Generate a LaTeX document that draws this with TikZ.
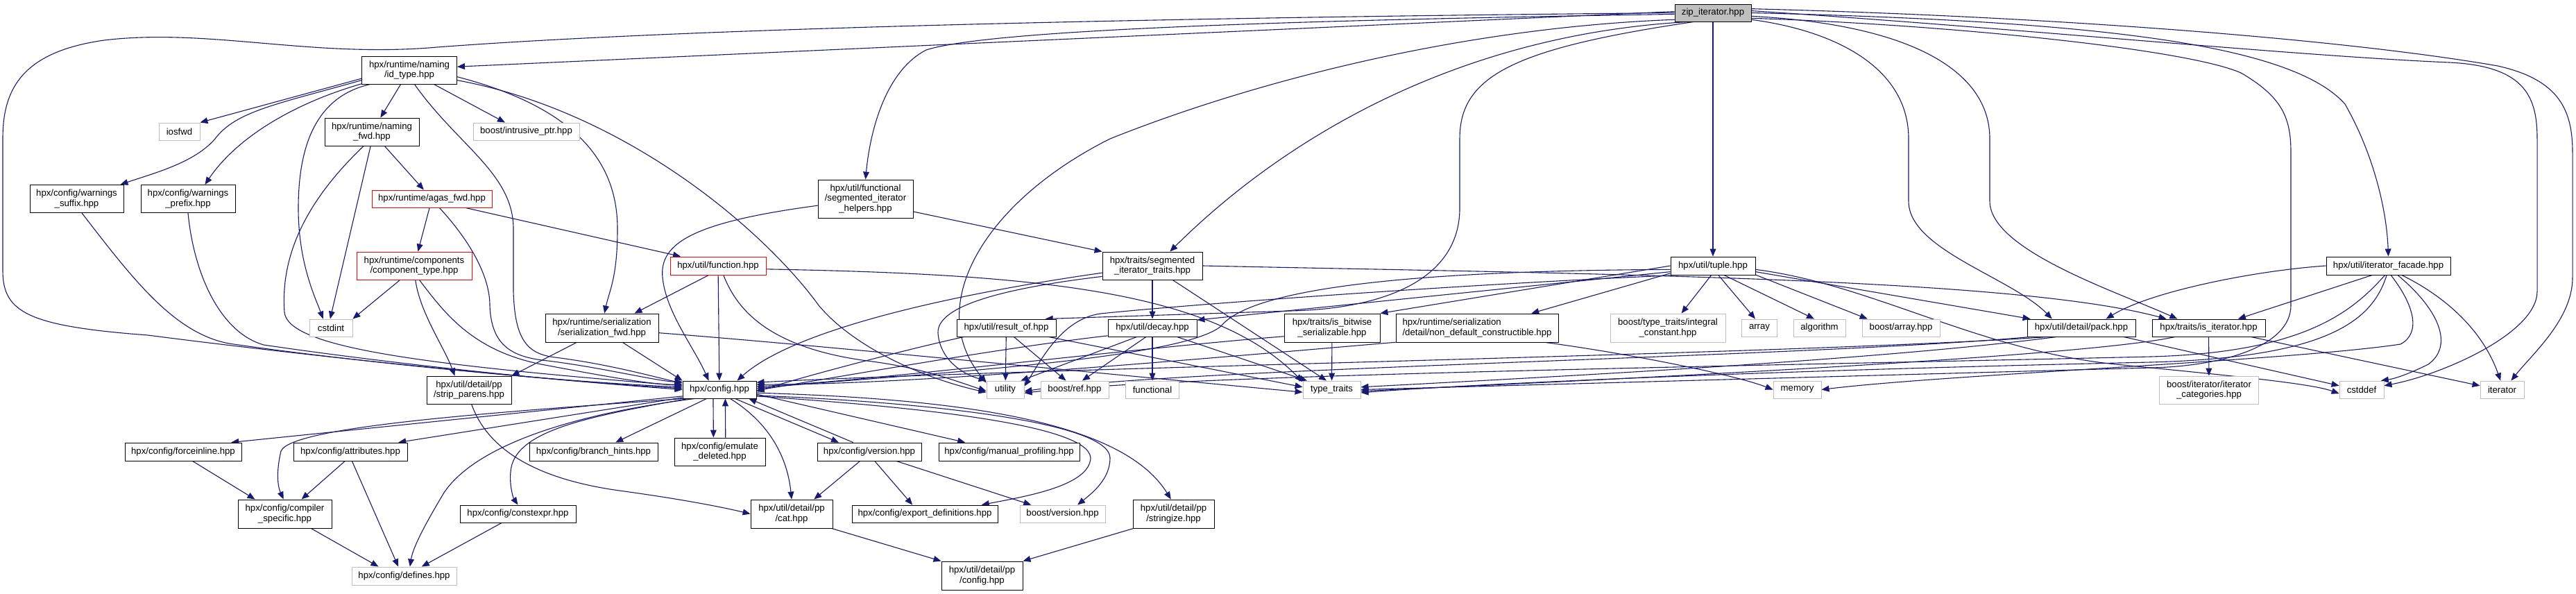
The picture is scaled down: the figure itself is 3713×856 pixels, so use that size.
\documentclass[tikz,border=0pt]{standalone}
\usepackage{fontspec}
\setmainfont{Liberation Sans}
\usetikzlibrary{arrows.meta}
\definecolor{eblue}{HTML}{191970}
\definecolor{gline}{HTML}{BFBFBF}
\definecolor{zfill}{HTML}{BFBFBF}
\pgfdeclarelayer{background}
\pgfdeclarelayer{edges}
\pgfsetlayers{background,edges,main}
\tikzset{
 nd/.style={draw=black, line width=0.45pt, fill=white, inner sep=0pt, align=center, font=\fontsize{6.6}{7.35}\selectfont},
 sysnd/.style={nd, draw=gline},
 trnd/.style={nd, draw=red},
 znd/.style={nd, fill=zfill},
 arr/.style={draw=eblue, line width=0.55pt, -{Triangle[length=5.5pt,width=4.4pt]}},
}
\newcommand{\gnode}[7]{\node[#6, minimum width=#4*0.5pt, minimum height=#5*0.5pt] (#1) at (#2,#3) {#7};}
\begin{document}
\begin{tikzpicture}[x=0.5pt,y=-0.5pt]
\begin{pgfonlayer}{background}
\fill[white] (0,0) rectangle (3713,856);
\end{pgfonlayer}
\useasboundingbox (0,0) rectangle (3713,856);
% nodes
\gnode{Z}{2469}{18.5}{110}{25}{znd}{zip\_iterator.hpp}
\gnode{idt}{590}{101}{137}{40}{nd}{hpx/runtime/naming\\/id\_type.hpp}
\gnode{iosfwd}{258.5}{189.5}{59}{25}{sysnd}{iosfwd}
\gnode{intr}{758.5}{189.5}{153}{25}{sysnd}{boost/intrusive\_ptr.hpp}
\gnode{nfwd}{536}{190}{136}{40}{nd}{hpx/runtime/naming\\\_fwd.hpp}
\gnode{wsuf}{110.5}{286.5}{135}{40}{nd}{hpx/config/warnings\\\_suffix.hpp}
\gnode{wpre}{271}{286.5}{136}{40}{nd}{hpx/config/warnings\\\_prefix.hpp}
\gnode{agas}{622.5}{286.5}{173}{25}{trnd}{hpx/runtime/agas\_fwd.hpp}
\gnode{comp}{597}{383}{166}{40}{trnd}{hpx/runtime/components\\/component\_type.hpp}
\gnode{func}{1035}{383}{138}{26}{trnd}{hpx/util/function.hpp}
\gnode{sehl}{1247.5}{286.5}{137}{55}{nd}{hpx/util/functional\\/segmented\_iterator\\\_helpers.hpp}
\gnode{setr}{1661}{383}{144}{40}{nd}{hpx/traits/segmented\\\_iterator\_traits.hpp}
\gnode{tuple}{2469}{383}{122}{26}{nd}{hpx/util/tuple.hpp}
\gnode{itf}{3442.5}{383}{179}{26}{nd}{hpx/util/iterator\_facade.hpp}
\gnode{cstdint}{477}{472.5}{62}{25}{sysnd}{cstdint}
\gnode{serfwd}{867.5}{472.5}{163}{41}{nd}{hpx/runtime/serialization\\/serialization\_fwd.hpp}
\gnode{cfg}{1037}{561.5}{106}{25}{nd}{hpx/config.hpp}
\gnode{strip}{676}{562}{122}{40}{nd}{hpx/util/detail/pp\\/strip\_parens.hpp}
\gnode{force}{264}{651}{168}{26}{nd}{hpx/config/forceinline.hpp}
\gnode{attr}{505}{651}{164}{26}{nd}{hpx/config/attributes.hpp}
\gnode{cspec}{410.5}{740.5}{135}{41}{nd}{hpx/config/compiler\\\_specific.hpp}
\gnode{defs}{582.5}{830}{151}{26}{sysnd}{hpx/config/defines.hpp}
\gnode{cexpr}{746.5}{740.5}{167}{25}{nd}{hpx/config/constexpr.hpp}
\gnode{bhint}{855.5}{651}{185}{26}{nd}{hpx/config/branch\_hints.hpp}
\gnode{emul}{1037.5}{651}{131}{40}{nd}{hpx/config/emulate\\\_deleted.hpp}
\gnode{ver}{1253}{651}{150}{26}{nd}{hpx/config/version.hpp}
\gnode{mprof}{1454.5}{651}{203}{26}{nd}{hpx/config/manual\_profiling.hpp}
\gnode{cat}{1141}{740.5}{118}{41}{nd}{hpx/util/detail/pp\\/cat.hpp}
\gnode{expd}{1333}{740.5}{210}{25}{nd}{hpx/config/export\_definitions.hpp}
\gnode{bver}{1531.5}{740.5}{123}{25}{sysnd}{boost/version.hpp}
\gnode{strz}{1691.5}{740.5}{117}{41}{nd}{hpx/util/detail/pp\\/stringize.hpp}
\gnode{ppcfg}{1415.5}{829.5}{117}{41}{nd}{hpx/util/detail/pp\\/config.hpp}
\gnode{resof}{1450.5}{472.5}{143}{25}{nd}{hpx/util/result\_of.hpp}
\gnode{decay}{1661}{472.5}{128}{25}{nd}{hpx/util/decay.hpp}
\gnode{util}{1449}{561.5}{54}{25}{sysnd}{utility}
\gnode{bref}{1549}{561.5}{98}{25}{sysnd}{boost/ref.hpp}
\gnode{fnl}{1661}{561.5}{77}{25}{sysnd}{functional}
\gnode{isbw}{1920}{472.5}{138}{41}{nd}{hpx/traits/is\_bitwise\\\_serializable.hpp}
\gnode{ndef}{2129}{472.5}{234}{41}{nd, align=left}{hpx/runtime/serialization\\/detail/non\_default\_constructible.hpp}
\gnode{intc}{2404}{472.5}{166}{41}{sysnd}{boost/type\_traits/integral\\\_constant.hpp}
\gnode{tt}{1919.5}{561.5}{83}{25}{sysnd}{type\_traits}
\gnode{stdarray}{2536}{472.5}{51}{25}{sysnd}{array}
\gnode{algo}{2622.5}{472.5}{75}{25}{sysnd}{algorithm}
\gnode{barr}{2740}{472.5}{112}{25}{sysnd}{boost/array.hpp}
\gnode{pack}{3000}{472.5}{156}{25}{nd}{hpx/util/detail/pack.hpp}
\gnode{mem}{2590.5}{561.5}{69}{25}{sysnd}{memory}
\gnode{isit}{3183.5}{472.5}{163}{25}{nd}{hpx/traits/is\_iterator.hpp}
\gnode{itcat}{3184}{562}{143}{40}{sysnd}{boost/iterator/iterator\\\_categories.hpp}
\gnode{cdef}{3404}{561.5}{64}{25}{sysnd}{cstddef}
\gnode{iter}{3606.5}{561.5}{63}{25}{sysnd}{iterator}
% edges
\begin{pgfonlayer}{edges}
% zip_iterator
\draw[arr] (Z.west) .. controls (1700,25) and (1000,40) .. (630,68) .. controls (450,84) and (300,40) .. (150,58) .. controls (30,75) and (4,130) .. (4,200) -- (4,390) .. controls (4,450) and (40,470) .. (213,483) .. controls (500,520) and (800,548) .. (cfg.180);
\draw[arr] (Z.178) -- (idt.4);
\draw[arr] (Z.182) .. controls (1800,30) and (1420,45) .. (1335,72) .. controls (1280,100) and (1255,180) .. (sehl.north);
\draw[arr] (Z.200) .. controls (2100,50) and (1850,200) .. (setr.39);
\draw[arr] (Z) -- (tuple);
\draw[arr] (Z.190) .. controls (2100,40) and (1800,120) .. (1600,200) .. controls (1420,290) and (1330,440) .. (util.160);
\draw[arr] (Z.205) .. controls (2180,70) and (2104,110) .. (2104,200) -- (2104,300) .. controls (2104,400) and (2000,445) .. (1860,448) -- (resof.13);
\draw[arr] (Z.-10) .. controls (2650,45) and (2751,100) .. (2751,200) -- (2751,290) .. controls (2751,360) and (2900,400) .. (pack.163);
\draw[arr] (Z.-5) .. controls (2750,35) and (2868,100) .. (2868,200) -- (2868,290) .. controls (2868,360) and (3050,420) .. (isit.164);
\draw[arr] (Z.0) .. controls (3000,30) and (3300,60) .. (3380,150) .. controls (3420,220) and (3440,300) .. (itf.north);
\draw[arr] (Z.3) .. controls (2900,40) and (3300,80) .. (3530,90) .. controls (3640,95) and (3657,140) .. (3657,200) -- (3657,420) .. controls (3657,480) and (3520,540) .. (cdef.10);
\draw[arr] (Z.6) .. controls (3000,25) and (3400,60) .. (3600,95) .. controls (3690,115) and (3708,160) .. (3708,220) -- (3708,400) .. controls (3708,460) and (3650,510) .. (iter.45);
\draw[arr] (Z.-8) .. controls (2800,35) and (3150,70) .. (3230,105) .. controls (3290,140) and (3302,170) .. (3302,220) -- (3302,440) .. controls (3302,500) and (3200,528) .. (3100,530) -- (tt.east);
% id_type
\draw[arr] (idt.190) -- (iosfwd.north east);
\draw[arr] (idt.192) .. controls (400,150) and (340,160) .. (310,200) .. controls (280,235) and (220,250) .. (wsuf.18);
\draw[arr] (idt.196) .. controls (420,150) and (340,200) .. (wpre.40);
\draw[arr] (idt) -- (nfwd);
\draw[arr] (idt.-30) -- (intr.157);
\draw[arr] (idt.200) .. controls (450,140) and (430,220) .. (430,300) .. controls (430,380) and (455,430) .. (cstdint.131);
\draw[arr] (idt.-70) .. controls (660,210) and (740,250) .. (740,330) -- (740,420) .. controls (742,490) and (760,510) .. (800,515) .. controls (880,525) and (950,545) .. (cfg.170);
\draw[arr] (idt.-8) .. controls (850,160) and (890,250) .. (890,330) .. controls (890,400) and (878,420) .. (serfwd.80);
\draw[arr] (idt.-12) .. controls (900,160) and (1100,330) .. (1180,440) .. controls (1230,500) and (1330,545) .. (util.188);
% naming_fwd
\draw[arr] (nfwd.-120) .. controls (430,300) and (405,380) .. (410,450) .. controls (415,500) and (600,525) .. (cfg.174);
\draw[arr] (nfwd.-95) -- (cstdint.95);
\draw[arr] (nfwd) -- (agas);
% warnings
\draw[arr] (wsuf.-70) .. controls (190,400) and (250,480) .. (330,495) .. controls (500,520) and (800,550) .. (cfg.176);
\draw[arr] (wpre.-90) .. controls (280,400) and (320,480) .. (380,497) .. controls (550,522) and (800,550) .. (cfg.178);
% agas
\draw[arr] (agas) -- (comp);
\draw[arr] (agas.-15) -- (func.166);
\draw[arr] (agas.-50) .. controls (680,350) and (706,400) .. (706,440) .. controls (708,500) and (740,515) .. (790,520) .. controls (870,530) and (950,550) .. (cfg.168);
% component_type
\draw[arr] (comp.-135) -- (cstdint.north east);
\draw[arr] (comp.-85) .. controls (605,450) and (640,500) .. (strip.135);
\draw[arr] (comp.-70) .. controls (640,450) and (680,505) .. (780,525) .. controls (860,540) and (940,555) .. (cfg.172);
% function
\draw[arr] (func) -- (cfg);
\draw[arr] (func.-135) -- (serfwd.24);
\draw[arr] (func.-60) .. controls (1060,440) and (1100,500) .. (1250,520) .. controls (1330,530) and (1380,550) .. (util.184);
\draw[arr] (func.-4) .. controls (1500,395) and (1750,420) .. (tt.165);
% serialization_fwd
\draw[arr] (serfwd.-150) -- (strip.north east);
\draw[arr] (serfwd.-35) -- (cfg.north west);
\draw[arr] (serfwd.-5) .. controls (1150,495) and (1500,530) .. (tt.185);
% strip_parens
\draw[arr] (strip.-80) .. controls (700,640) and (760,690) .. (900,708) .. controls (1000,722) and (1050,733) .. (cat.west);
% segmented helpers / traits
\draw[arr] (sehl.-15) -- (setr.north west);
\draw[arr] (sehl.188) .. controls (1000,320) and (950,350) .. (955,400) .. controls (960,450) and (1000,500) .. (cfg.140);
\draw[arr] (setr) -- (decay);
\draw[arr] (setr.188) .. controls (1400,420) and (1150,470) .. (cfg.27);
\draw[arr] (setr.192) .. controls (1450,415) and (1350,440) .. (1352,480) .. controls (1355,520) and (1390,540) .. (util.north west);
\draw[arr] (setr.-35) -- (tt.120);
\draw[arr] (setr.east) .. controls (2300,395) and (2900,400) .. (isit.168);
% tuple
\draw[arr] (tuple.west) -- (isbw.north east);
\draw[arr] (tuple.188) -- (decay.10);
\draw[arr] (tuple.190) -- (ndef.15);
\draw[arr] (tuple.-100) -- (intc.47);
\draw[arr] (tuple.-60) -- (stdarray.115);
\draw[arr] (tuple.-40) -- (algo.120);
\draw[arr] (tuple.-12) -- (barr.165);
\draw[arr] (tuple.-8) -- (pack.170);
\draw[arr] (tuple.185) .. controls (2000,390) and (1800,420) .. (1760,470) .. controls (1700,520) and (1300,540) .. (cfg.2);
\draw[arr] (tuple.195) .. controls (2100,410) and (1700,440) .. (1586,452) .. controls (1530,460) and (1500,520) .. (util.10);
\draw[arr] (tuple.-5) .. controls (2700,410) and (2850,505) .. (3050,525) .. controls (3200,540) and (3330,552) .. (cdef.190);
% result_of
\draw[arr] (resof) -- (util);
\draw[arr] (resof.-50) -- (bref.134);
\draw[arr] (resof.-168) .. controls (1300,505) and (1150,545) .. (cfg.-3);
\draw[arr] (resof.-12) -- (tt.175);
% decay
\draw[arr] (decay) -- (fnl);
\draw[arr] (decay.-125) -- (bref.50);
\draw[arr] (decay.-150) -- (util.30);
\draw[arr] (decay.190) .. controls (1450,500) and (1200,545) .. (cfg.-1);
\draw[arr] (decay.-20) -- (tt.160);
% is_bitwise, non_default
\draw[arr] (isbw) -- (tt);
\draw[arr] (isbw.190) .. controls (1600,505) and (1250,550) .. (cfg.5);
\draw[arr] (ndef.-170) .. controls (1700,520) and (1300,555) .. (cfg.8);
\draw[arr] (ndef.-12) .. controls (2350,510) and (2500,540) .. (mem.west);
% pack
\draw[arr] (pack.-165) .. controls (2600,510) and (1500,530) .. (cfg.11);
\draw[arr] (pack.-170) .. controls (2600,515) and (1700,530) .. (util.-5);
\draw[arr] (pack.-160) .. controls (2700,520) and (2200,545) .. (tt.5);
\draw[arr] (pack.-12) -- (cdef.170);
% is_iterator
\draw[arr] (isit) -- (itcat);
\draw[arr] (isit.-12) -- (iter.170);
\draw[arr] (isit.-165) .. controls (3000,515) and (2300,548) .. (tt.-3);
% iterator_facade
\draw[arr] (itf.-150) -- (isit.17);
\draw[arr] (itf.-75) .. controls (3480,440) and (3490,480) .. (3460,496) .. controls (3300,520) and (2800,540) .. (mem.east);
\draw[arr] (itf.-45) .. controls (3520,450) and (3535,500) .. (3500,525) .. controls (3470,540) and (3450,546) .. (cdef.25);
\draw[arr] (itf.-35) .. controls (3530,430) and (3580,480) .. (iter.100);
\draw[arr] (itf.-110) .. controls (3390,450) and (3320,508) .. (3100,514) .. controls (2500,528) and (1700,540) .. (util.-10);
\draw[arr] (itf.-100) .. controls (3420,460) and (3360,515) .. (3100,522) .. controls (2500,535) and (2100,555) .. (tt.-6);
\draw[arr] (itf.west) .. controls (3250,390) and (3100,420) .. (pack.20);
% config and below
\draw[arr] (cfg.-30) -- (ver.163);
\draw[arr] (ver.150) -- (cfg.-17);
\draw[arr] (ver.-135) -- (cat.33);
\draw[arr] (ver.-60) -- (expd.144);
\draw[arr] (ver.-19) -- (bver.164);
\draw[arr] (cfg.190) -- (force.11);
\draw[arr] (cfg.192) -- (attr.11);
\draw[arr] (cfg.194) .. controls (700,595) and (420,615) .. (405,650) .. controls (398,680) and (400,700) .. (cspec.95);
\draw[arr] (cfg.196) .. controls (850,600) and (740,620) .. (736,680) .. controls (734,700) and (740,718) .. (cexpr.north);
\draw[arr] (cfg.200) .. controls (800,600) and (680,650) .. (640,710) .. controls (610,760) and (595,790) .. (defs.58);
\draw[arr] (cfg.-145) -- (bhint.23);
\draw[arr] (cfg.-125) -- (emul.114);
\draw[arr] (emul.68) -- (cfg.-57);
\draw[arr] (cfg.-40) .. controls (1110,610) and (1135,660) .. (cat.north);
\draw[arr] (cfg.-7) -- (mprof.168);
\draw[arr] (cfg.-10) .. controls (1300,585) and (1570,610) .. (1572,660) .. controls (1570,700) and (1480,715) .. (expd.9);
\draw[arr] (cfg.-9) .. controls (1350,580) and (1600,610) .. (1600,660) .. controls (1600,690) and (1575,710) .. (bver.31);
\draw[arr] (cfg.-5) .. controls (1400,575) and (1620,610) .. (strz.100);
\draw[arr] (force.-45) -- (cspec.154);
\draw[arr] (attr.-120) -- (cspec.41);
\draw[arr] (attr.-80) -- (defs.122);
\draw[arr] (cspec.-29) -- (defs.160);
\draw[arr] (cexpr.-151) -- (defs.28);
\draw[arr] (cat.-20) -- (ppcfg.north west);
\draw[arr] (strz.-160) -- (ppcfg.north east);
\end{pgfonlayer}
\end{tikzpicture}
\end{document}
